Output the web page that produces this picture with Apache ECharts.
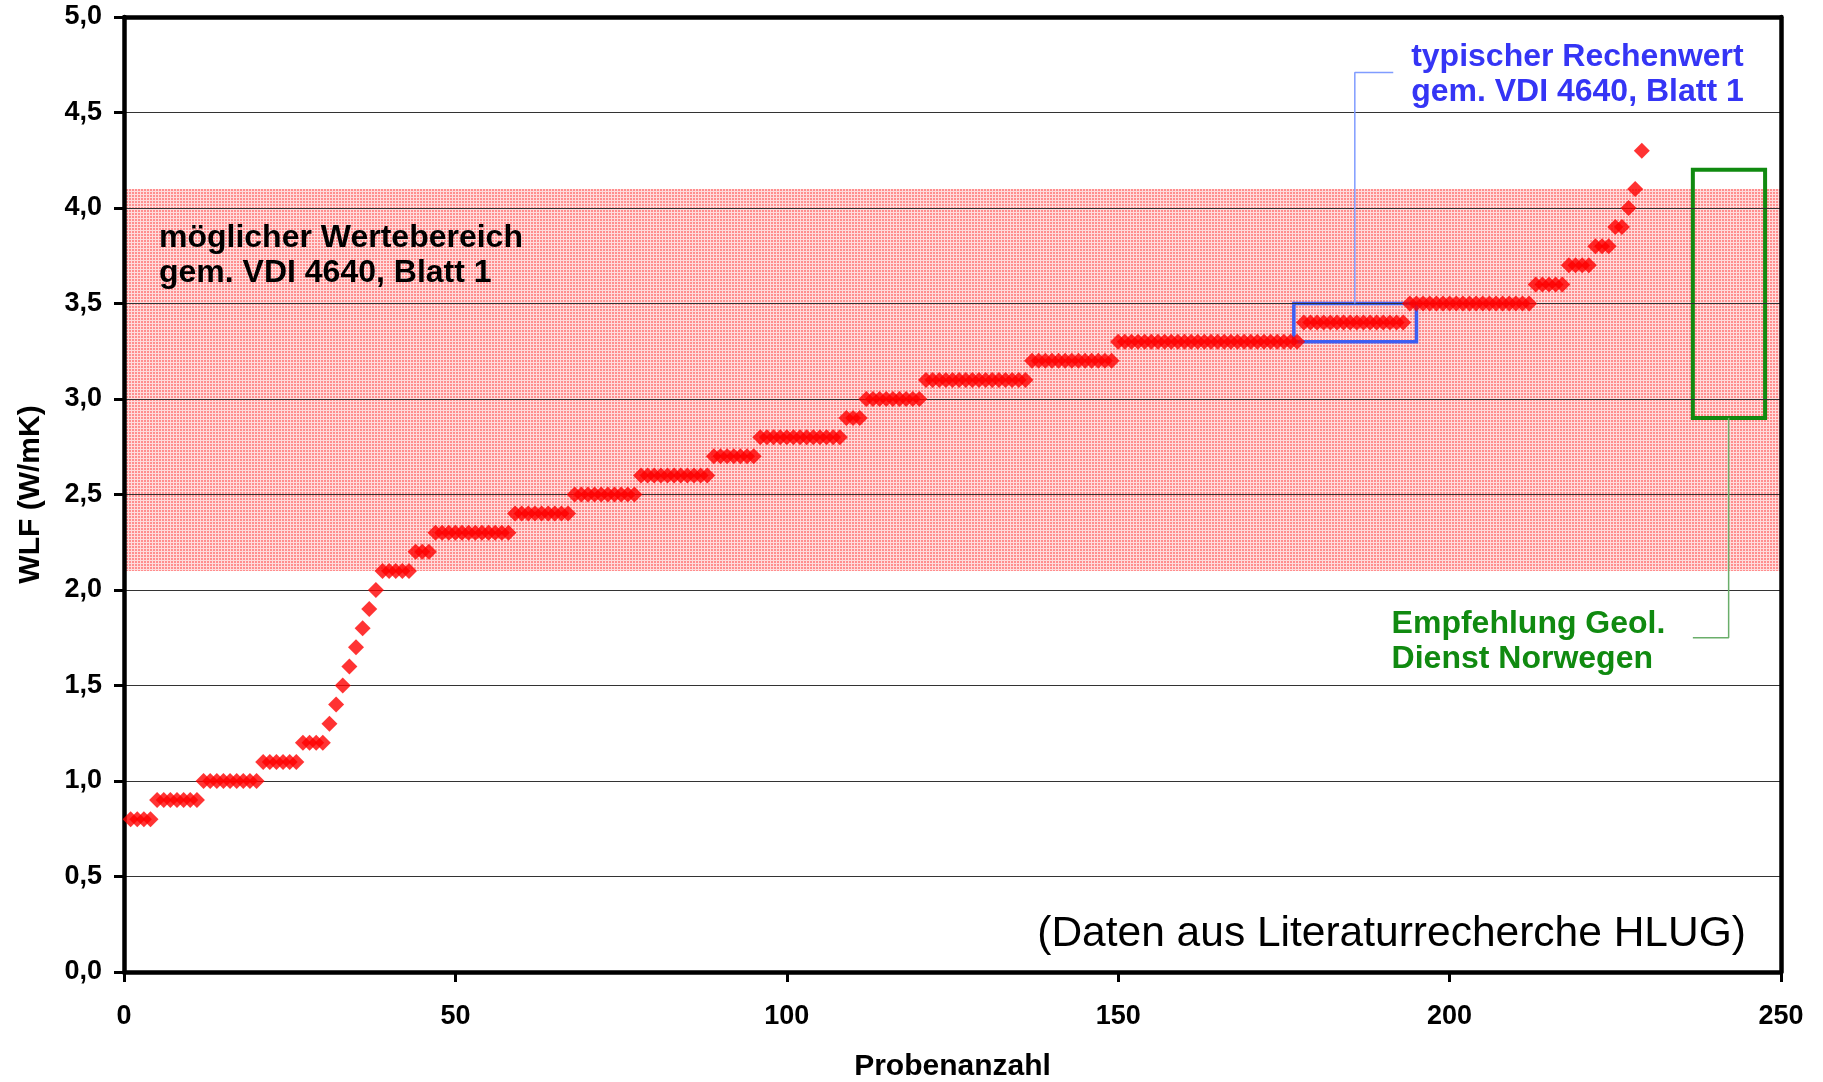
<!DOCTYPE html>
<html>
<head>
<meta charset="utf-8">
<script src="https://cdn.jsdelivr.net/npm/echarts@6/dist/echarts.min.js"></script>
<style>
html,body{margin:0;padding:0;background:#fff;}
#c{width:1823px;height:1082px;}
</style>
</head>
<body>
<div id="c"></div>
<script>
// Measured WLF values, sorted (sample number = position, starting at 1)
var wlfValues = [
  0.8,0.8,0.8,0.8,
  0.9,0.9,0.9,0.9,0.9,0.9,0.9,
  1.0,1.0,1.0,1.0,1.0,1.0,1.0,1.0,1.0,
  1.1,1.1,1.1,1.1,1.1,1.1,
  1.2,1.2,1.2,1.2,
  1.3,1.4,1.5,1.6,1.7,1.8,1.9,2.0,
  2.1,2.1,2.1,2.1,2.1,
  2.2,2.2,2.2,
  2.3,2.3,2.3,2.3,2.3,2.3,2.3,2.3,2.3,2.3,2.3,2.3,
  2.4,2.4,2.4,2.4,2.4,2.4,2.4,2.4,2.4,
  2.5,2.5,2.5,2.5,2.5,2.5,2.5,2.5,2.5,2.5,
  2.6,2.6,2.6,2.6,2.6,2.6,2.6,2.6,2.6,2.6,2.6,
  2.7,2.7,2.7,2.7,2.7,2.7,2.7,
  2.8,2.8,2.8,2.8,2.8,2.8,2.8,2.8,2.8,2.8,2.8,2.8,2.8,
  2.9,2.9,2.9,
  3.0,3.0,3.0,3.0,3.0,3.0,3.0,3.0,3.0,
  3.1,3.1,3.1,3.1,3.1,3.1,3.1,3.1,3.1,3.1,3.1,3.1,3.1,3.1,3.1,3.1,
  3.2,3.2,3.2,3.2,3.2,3.2,3.2,3.2,3.2,3.2,3.2,3.2,3.2,
  3.3,3.3,3.3,3.3,3.3,3.3,3.3,3.3,3.3,3.3,3.3,3.3,3.3,3.3,3.3,3.3,3.3,3.3,3.3,3.3,3.3,3.3,3.3,3.3,3.3,3.3,3.3,3.3,
  3.4,3.4,3.4,3.4,3.4,3.4,3.4,3.4,3.4,3.4,3.4,3.4,3.4,3.4,3.4,3.4,
  3.5,3.5,3.5,3.5,3.5,3.5,3.5,3.5,3.5,3.5,3.5,3.5,3.5,3.5,3.5,3.5,3.5,3.5,3.5,
  3.6,3.6,3.6,3.6,3.6,
  3.7,3.7,3.7,3.7,
  3.8,3.8,3.8,
  3.9,3.9,
  4.0,
  4.1,
  4.3
];
// Range "möglicher Wertebereich gem. VDI 4640"
var vdiRange = [2.1, 4.1];
// "typischer Rechenwert" box: [xFrom, xTo], [yFrom, yTo]
var typBoxX = [176.5, 195];
var typBoxY = [3.3, 3.5];
var typLeader = [[185.7, 3.5], [185.7, 4.71], [191.5, 4.71]];
// Norwegian recommendation box
var norBoxX = [236.7, 247.6];
var norBoxY = [2.9, 4.2];
var norLeader = [[242.1, 2.9], [242.1, 1.75], [236.7, 1.75]];
// Axis ticks
var xTicks = {min: 0, max: 250, interval: 50};
var yTicks = {min: 0, max: 5, interval: 0.5};

var points = wlfValues.map(function (v, i) { return [i + 1, v]; });

// hatched pink pattern for the band
var pc = document.createElement('canvas');
pc.width = 3; pc.height = 3;
var pctx = pc.getContext('2d');
pctx.fillStyle = '#ffdcdc'; pctx.fillRect(0, 0, 3, 3);
pctx.fillStyle = '#ff8e8e'; pctx.fillRect(0, 0, 2, 2);

var FONT = '"Liberation Sans", Arial, Helvetica, sans-serif';
var chart = echarts.init(document.getElementById('c'));

var option = {
  animation: false,
  backgroundColor: '#ffffff',
  grid: {left: 124, right: 42, top: 17, bottom: 110, containLabel: false, outerBoundsMode: 'none'},
  xAxis: [{
    type: 'value', min: xTicks.min, max: xTicks.max, interval: xTicks.interval,
    z: 5,
    name: 'Probenanzahl', nameLocation: 'middle', nameGap: 80,
    nameTextStyle: {fontFamily: FONT, fontWeight: 'bold', fontSize: 30, color: '#000'},
    axisLine: {show: true, onZero: false, lineStyle: {color: '#000', width: 4.5}},
    axisTick: {show: true, inside: false, length: 10, lineStyle: {color: '#000', width: 3}},
    axisLabel: {margin: 31, fontFamily: FONT, fontWeight: 'bold', fontSize: 27, color: '#000'},
    splitLine: {show: false}
  }, {
    type: 'value', position: 'top', min: xTicks.min, max: xTicks.max, z: 5,
    axisLine: {show: true, onZero: false, lineStyle: {color: '#000', width: 4.5}},
    axisTick: {show: false}, axisLabel: {show: false}, splitLine: {show: false}
  }],
  yAxis: [{
    type: 'value', min: yTicks.min, max: yTicks.max, interval: yTicks.interval,
    z: 5,
    name: 'WLF (W/mK)', nameLocation: 'middle', nameGap: 78, nameRotate: 90,
    nameTextStyle: {fontFamily: FONT, fontWeight: 'bold', fontSize: 30, color: '#000'},
    axisLine: {show: true, onZero: false, lineStyle: {color: '#000', width: 4.5}},
    axisTick: {show: true, inside: false, length: 10, lineStyle: {color: '#000', width: 3}},
    axisLabel: {margin: 22, fontFamily: FONT, fontWeight: 'bold', fontSize: 27, color: '#000',
      formatter: function (v) { return v.toFixed(1).replace('.', ','); }},
    splitLine: {show: true, lineStyle: {color: '#333', width: 1.2}}
  }, {
    type: 'value', position: 'right', min: yTicks.min, max: yTicks.max, z: 5,
    axisLine: {show: true, onZero: false, lineStyle: {color: '#000', width: 4.5}},
    axisTick: {show: false}, axisLabel: {show: false}, splitLine: {show: false}
  }],
  series: [
    {
      type: 'scatter', data: [], z: 1, silent: true,
      markArea: {
        silent: true,
        itemStyle: {color: {image: pc, repeat: 'repeat'}, opacity: 1},
        data: [[{yAxis: vdiRange[0]}, {yAxis: vdiRange[1]}]]
      }
    },
    {
      type: 'line', data: typLeader, z: 8, symbol: 'none', silent: true,
      lineStyle: {color: '#809cff', width: 1.5}
    },
    {
      type: 'line', data: norLeader, z: 8, symbol: 'none', silent: true,
      lineStyle: {color: '#6aae6a', width: 1.5}
    },
    {
      type: 'scatter', data: points, z: 10, symbol: 'diamond', symbolSize: 16,
      itemStyle: {color: '#ff0000'},
      markArea: {
        silent: true,
        data: [
          [{coord: [typBoxX[0], typBoxY[1]], itemStyle: {color: 'rgba(0,0,0,0)', borderColor: '#3d5ef2', borderWidth: 3.5}},
           {coord: [typBoxX[1], typBoxY[0]]}],
          [{coord: [norBoxX[0], norBoxY[1]], itemStyle: {color: 'rgba(0,0,0,0)', borderColor: '#108a10', borderWidth: 4}},
           {coord: [norBoxX[1], norBoxY[0]]}]
        ]
      }
    }
  ]
};
chart.setOption(option);

function px(x, y) { return chart.convertToPixel({xAxisIndex: 0, yAxisIndex: 0}, [x, y]); }
var pBlack = px(5.28, 3.843);
var pBlue = px(194.2, 4.79);
var pGreen = px(191.25, 1.822);
var pNote = px(244.7, 0.197);
var LH = 35;
function label(p, txt, color, bold, size, align) {
  return {
    type: 'text', x: p[0], y: p[1] - LH / 2, z: 50,
    style: {text: txt, fill: color, font: (bold ? 'bold ' : '') + size + 'px ' + FONT,
      lineHeight: LH, textAlign: align || 'left', textVerticalAlign: 'top'}
  };
}
chart.setOption({
  graphic: [
    label(pBlack, 'möglicher Wertebereich\ngem. VDI 4640, Blatt 1', '#000000', true, 32),
    label(pBlue, 'typischer Rechenwert\ngem. VDI 4640, Blatt 1', '#3535f5', true, 32),
    label(pGreen, 'Empfehlung Geol.\nDienst Norwegen', '#108a10', true, 32),
    {type: 'text', x: pNote[0], y: pNote[1], z: 50,
      style: {text: '(Daten aus Literaturrecherche HLUG)', fill: '#000', font: '42.5px ' + FONT,
        textAlign: 'right', textVerticalAlign: 'middle'}}
  ]
});
</script>
</body>
</html>
